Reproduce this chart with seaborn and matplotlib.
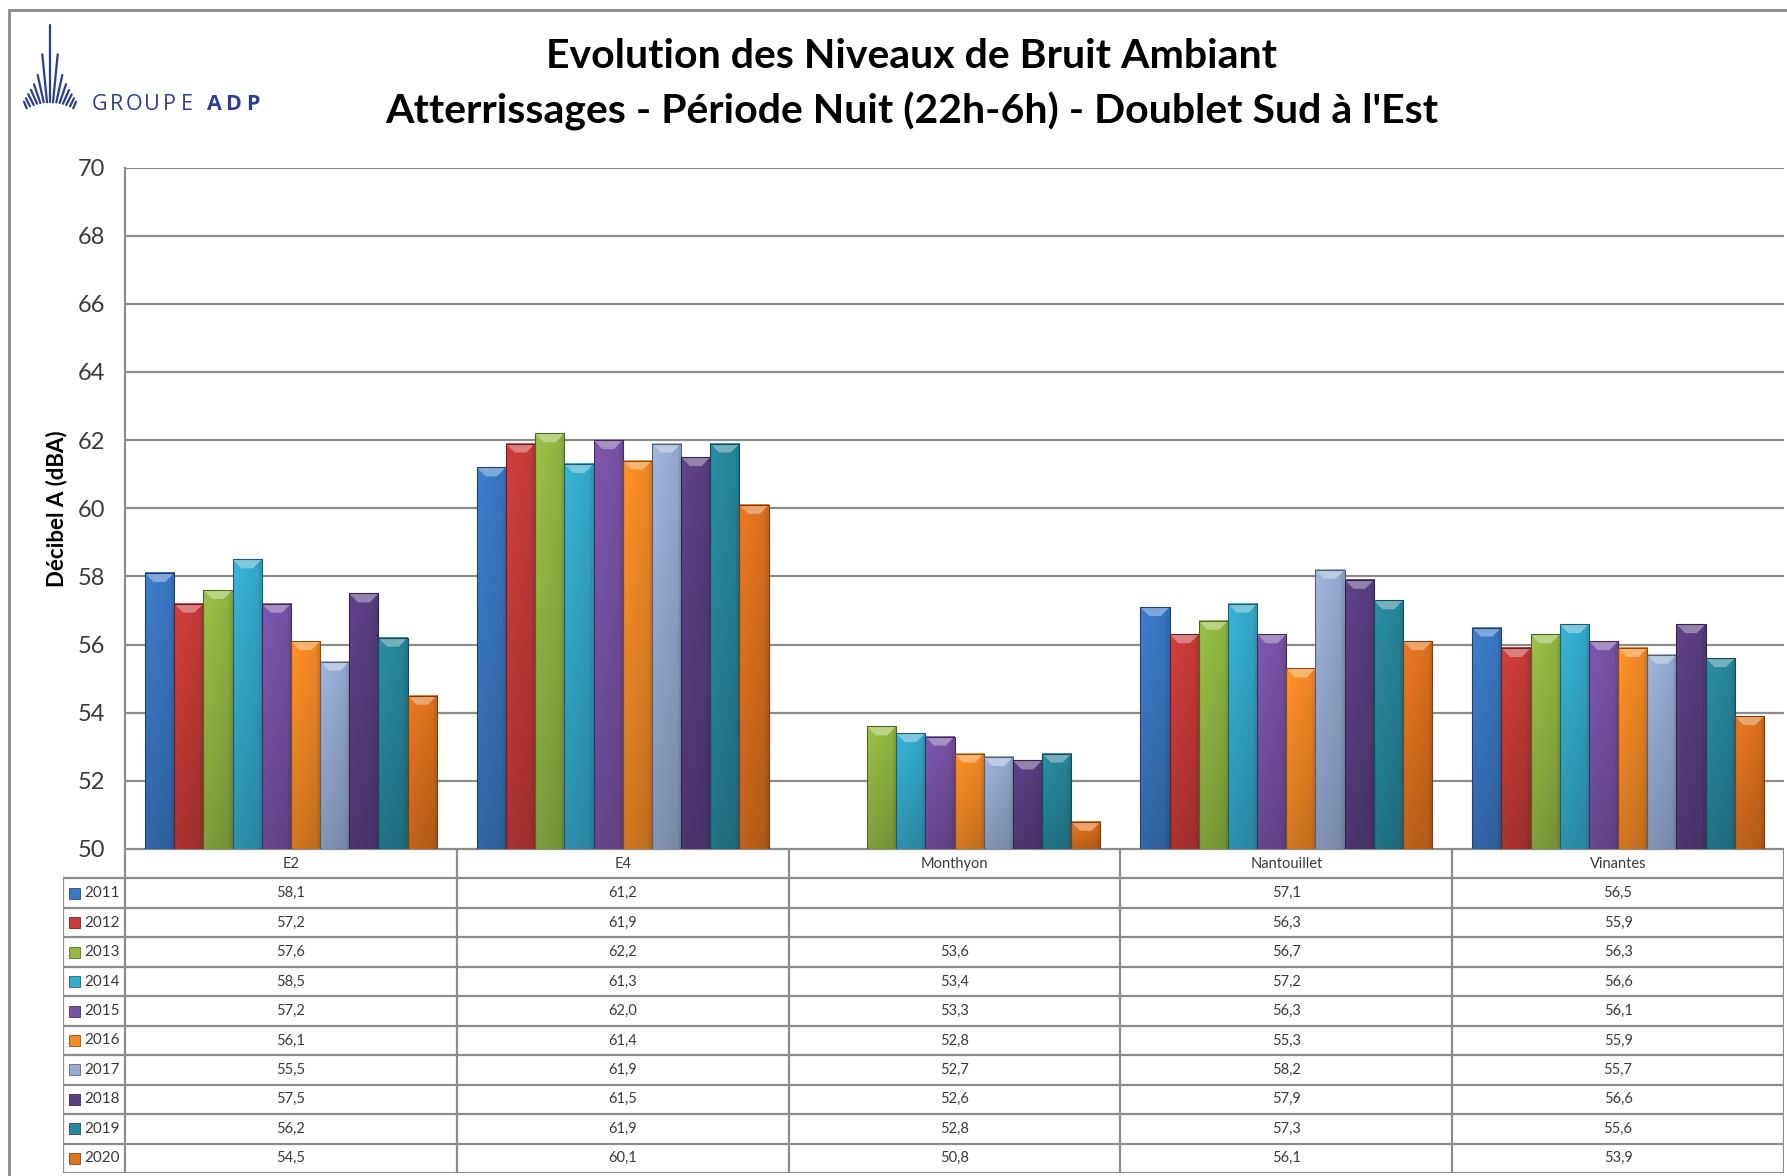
import numpy as np
import pandas as pd
import matplotlib
matplotlib.use("Agg")
import matplotlib.pyplot as plt
import seaborn as sns
from matplotlib.patches import Polygon, Rectangle
from matplotlib.lines import Line2D

# ---- data -------------------------------------------------------------
sites = ["E2", "E4", "Monthyon", "Nantouillet", "Vinantes"]
years = ["2011", "2012", "2013", "2014", "2015",
         "2016", "2017", "2018", "2019", "2020"]
nan = np.nan
v2011 = [58.1, 61.2, nan, 57.1, 56.5]
v2012 = [57.2, 61.9, nan, 56.3, 55.9]
v2013 = [57.6, 62.2, 53.6, 56.7, 56.3]
v2014 = [58.5, 61.3, 53.4, 57.2, 56.6]
v2015 = [57.2, 62.0, 53.3, 56.3, 56.1]
v2016 = [56.1, 61.4, 52.8, 55.3, 55.9]
v2017 = [55.5, 61.9, 52.7, 58.2, 55.7]
v2018 = [57.5, 61.5, 52.6, 57.9, 56.6]
v2019 = [56.2, 61.9, 52.8, 57.3, 55.6]
v2020 = [54.5, 60.1, 50.8, 56.1, 53.9]
series = [v2011, v2012, v2013, v2014, v2015, v2016, v2017, v2018, v2019, v2020]

colors = ["#3a78c4", "#c83b39", "#93b944", "#35abcc", "#7853a6",
          "#f58b26", "#98add4", "#5b3f83", "#27879d", "#e0731f"]

title1 = "Evolution des Niveaux de Bruit Ambiant"
title2 = "Atterrissages - Période Nuit (22h-6h) - Doublet Sud à l'Est"
ylabel = "Décibel A (dBA)"

rows = []
for y, vals in zip(years, series):
    for s, v in zip(sites, vals):
        if not np.isnan(v):
            rows.append({"site": s, "year": y, "value": v})
df = pd.DataFrame(rows)

# ---- figure -----------------------------------------------------------
W, H = 1787, 1176
sns.set_theme(style="white")
plt.rcParams["font.family"] = ["Lato", "DejaVu Sans"]
fig = plt.figure(figsize=(W / 100, H / 100), dpi=100)
fig.patch.set_facecolor("white")


def fx(x):
    return x / W


def fy(y):
    return 1 - y / H


GRID = "#8c8c8c"
TXT = "#3a3a3a"

ax_l, ax_r, ax_t, ax_b = 125, 1784, 167.5, 849
ax = fig.add_axes([fx(ax_l), fy(ax_b), fx(ax_r - ax_l), (ax_b - ax_t) / H])

sns.barplot(data=df, x="site", y="value", hue="year", order=sites,
            hue_order=years, palette=colors, width=0.88, gap=0,
            errorbar=None, legend=False, ax=ax, saturation=1)

ymin, ymax = 50, 70
ax.set_xlim(-0.5, len(sites) - 0.5)
ax.set_ylim(ymin, ymax)
ax.set_autoscale_on(False)
ax.set_yticks(np.arange(50, 71, 2))
ax.yaxis.grid(True, color=GRID, lw=1.6)
ax.set_axisbelow(True)
ax.tick_params(axis="y", length=0, pad=14, labelsize=17, labelcolor=TXT)
ax.set_xticks([])
ax.set_xlabel("")
ax.set_ylabel(ylabel, fontsize=16, fontweight="bold", color="black")
ax.yaxis.set_label_coords((67 - ax_l) / (ax_r - ax_l), 0.5)
for side in ["top", "right", "bottom"]:
    ax.spines[side].set_visible(False)
ax.spines["left"].set_color(GRID)
ax.spines["left"].set_linewidth(1.6)

# shaded, bevelled bars
px_y = (ymax - ymin) / (ax_b - ax_t)
px_x = len(sites) / (ax_r - ax_l)
for p in list(ax.patches):
    x0, w, h = p.get_x(), p.get_width(), p.get_height()
    if not np.isfinite(h) or w == 0:
        continue
    rgb = np.array(p.get_facecolor()[:3])
    ny, nx = 64, 24
    vert = np.linspace(1.06, 0.86, ny)[:, None]
    t = np.linspace(0, 1, nx)[None, :]
    horiz = 1.0 - 0.10 * t - 0.06 * (t > 0.9)
    fac = vert * horiz
    img = np.clip(rgb[None, None, :] * fac[:, :, None], 0, 1)
    ax.imshow(img, extent=[x0, x0 + w, ymin, h], aspect="auto",
              interpolation="bilinear", zorder=2.1)
    light = np.clip(rgb + (1 - rgb) * 0.35, 0, 1)
    bh = 9 * px_y
    ins = 0.3 * w
    ax.add_patch(Polygon([(x0, h), (x0 + w, h), (x0 + w - ins, h - bh),
                          (x0 + ins, h - bh)], closed=True,
                         facecolor=light, edgecolor="none", zorder=2.2))
    p.set_facecolor("none")
    p.set_edgecolor(tuple(rgb * 0.55))
    p.set_linewidth(0.8)
    p.set_zorder(2.3)

# ---- data table -------------------------------------------------------
tb_l, tb_b = 63, 1173
rlw = (ax_l - tb_l) * px_x
tax = fig.add_axes([fx(tb_l), fy(tb_b), fx(ax_r - tb_l), (tb_b - ax_b) / H])
tax.set_xlim(-0.5 - rlw, len(sites) - 0.5)
nrow = len(years) + 1
tax.set_ylim(nrow, 0)
tax.axis("off")
lk = dict(color=GRID, lw=1.6, solid_capstyle="projecting")
tax.add_line(Line2D([-0.5, len(sites) - 0.5], [0, 0], **lk))
for r in range(1, nrow + 1):
    tax.add_line(Line2D([-0.5 - rlw, len(sites) - 0.5], [r, r], **lk))
tax.add_line(Line2D([-0.5 - rlw, -0.5 - rlw], [1, nrow], **lk))
for c in range(len(sites) + 1):
    tax.add_line(Line2D([c - 0.5, c - 0.5], [0, nrow], **lk))
for c, s in enumerate(sites):
    tax.text(c, 0.5, s, ha="center", va="center", fontsize=10.5, color=TXT)
mk_w = 11 * px_x
mk_h = 11 / ((tb_b - ax_b) / nrow)
for r, (y, vals, col) in enumerate(zip(years, series, colors), start=1):
    mx = -0.5 - rlw + 6 * px_x
    tax.add_patch(Rectangle((mx, r + 0.5 - mk_h / 2), mk_w, mk_h,
                            facecolor=col,
                            edgecolor=tuple(np.array(matplotlib.colors.to_rgb(col)) * 0.6),
                            lw=0.6))
    tax.text(mx + mk_w + 4 * px_x, r + 0.5, y, ha="left", va="center",
             fontsize=11, color=TXT)
    for c, v in enumerate(vals):
        if not np.isnan(v):
            tax.text(c, r + 0.5, f"{v:.1f}".replace(".", ","), ha="center",
                     va="center", fontsize=10.5, color=TXT)

# ---- titles -----------------------------------------------------------
fig.text(fx(912), fy(57), title1, ha="center", va="center",
         fontsize=29.5, fontweight="bold", color="black")
fig.text(fx(912), fy(111), title2, ha="center", va="center",
         fontsize=29.5, fontweight="bold", color="black")

# ---- outer frame ------------------------------------------------------
fig.add_artist(Rectangle((fx(9), fy(1200)), fx(2000), (1200 - 10) / H,
                         transform=fig.transFigure, facecolor="none",
                         edgecolor="#8a8a8a", lw=2))

# ---- logo -------------------------------------------------------------
LOGO = "#2c3e8f"
# left half of the fan (top point, bottom point); mirrored around x = 50
fan_left = [((50.0, 25.0), (50.0, 102.0)),
            ((42.3, 54.3), (47.0, 102.3)),
            ((37.7, 75.0), (43.7, 102.3)),
            ((34.0, 84.3), (40.3, 103.0)),
            ((31.0, 90.0), (37.0, 103.7)),
            ((28.3, 94.3), (33.7, 105.0)),
            ((26.0, 98.3), (30.0, 106.3)),
            ((24.0, 101.7), (26.7, 108.3))]
for i, ((xt, yt), (xb, yb)) in enumerate(fan_left):
    for sgn in ([1] if i == 0 else [1, -1]):
        xs = [50 + sgn * (xt - 50), 50 + sgn * (xb - 50)]
        fig.add_artist(Line2D([fx(x) for x in xs], [fy(yt), fy(yb)],
                              transform=fig.transFigure, color=LOGO, lw=1.6,
                              solid_capstyle="round"))
for i, ch in enumerate("GROUPE"):
    fig.text(fx(99.5 + i * 17.5), fy(104), ch, ha="center", va="center",
             fontsize=15.5, color=LOGO, family=["Open Sans", "DejaVu Sans"])
for i, ch in enumerate("ADP"):
    fig.text(fx(214.5 + i * 19), fy(104), ch, ha="center", va="center",
             fontsize=15.5, color=LOGO, fontweight="bold",
             family=["Open Sans", "DejaVu Sans"])

fig.savefig("out.png", dpi=100, facecolor="white")
